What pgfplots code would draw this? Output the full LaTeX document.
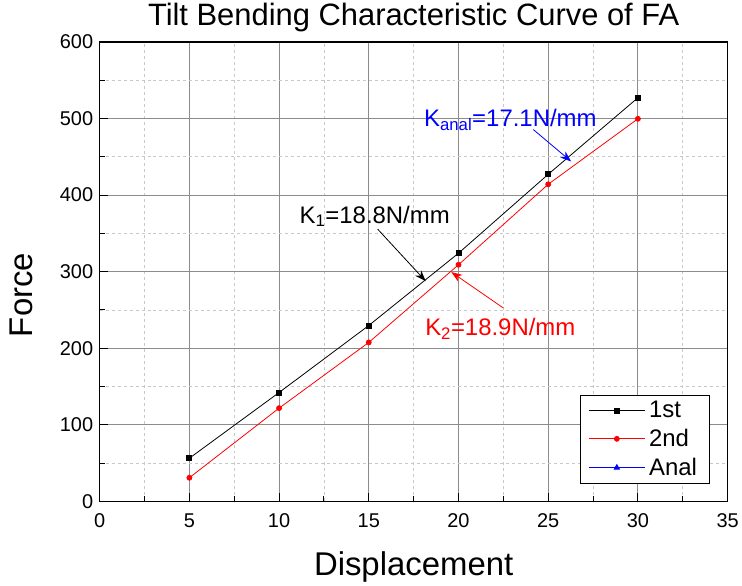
\documentclass[border=0pt]{standalone}
\usepackage{fontspec}
\setmainfont{Liberation Sans}
\usepackage{pgfplots}
\pgfplotsset{compat=1.18}
\usetikzlibrary{arrows.meta}

\definecolor{majgrid}{RGB}{140,140,140}
\definecolor{mingrid}{RGB}{200,200,200}

\begin{document}
\begin{tikzpicture}
\begin{axis}[
  name=ax,
  scale only axis,
  width=630pt, height=461pt,
  xmin=0, xmax=35, ymin=0, ymax=600,
  xtick={0,5,...,35}, ytick={0,100,...,600},
  minor x tick num=1, minor y tick num=1,
  xtick pos=bottom, ytick pos=left,
  tick align=inside,
  major tick length=8pt, minor tick length=5pt,
  every tick/.style={black, line width=1pt},
  axis line style={line width=1.6pt},
  grid=both,
  major grid style={majgrid, line width=0.8pt},
  minor grid style={mingrid, dashed, line width=0.6pt},
  /pgf/number format/assume math mode=true,
  ticklabel style={font=\fontsize{20}{22}\selectfont},
  xticklabel style={yshift=-9pt},
  yticklabel style={xshift=-3pt},
  title={Tilt Bending Characteristic Curve of FA},
  title style={font=\fontsize{31}{36}\selectfont, at={(axis description cs:0.5,1)}, anchor=base, yshift=10pt},
  xlabel={Displacement},
  xlabel style={font=\fontsize{33}{38}\selectfont, at={(axis description cs:0.5,0)}, anchor=base, yshift=-74pt},
  ylabel={Force},
  ylabel style={font=\fontsize{33}{38}\selectfont, at={([xshift=-67pt]axis description cs:0,0.449)}, anchor=base},
  legend style={at={(axis description cs:0.971,0.039)}, anchor=south east,
    font=\fontsize{24}{26}\selectfont, draw=black, line width=0.8pt,
    row sep=6pt, inner xsep=8pt, inner ysep=4pt,
    nodes={inner xsep=4pt}},
  legend cell align=left,
  legend image code/.code={\draw[mark repeat=2, mark phase=2, #1] plot coordinates {(0pt,0pt) (28pt,0pt) (56pt,0pt)};},
  clip=false,
]
\addplot[black, line width=0.8pt, mark=square*, mark size=2.5pt] coordinates {
  (5,56.3) (10,142.1) (15,229.6) (20,324) (25,427) (30,527)
};
\addlegendentry{1st}
\addplot[red, line width=0.8pt, mark=*, mark size=2.5pt] coordinates {
  (5,30.8) (10,121.7) (15,207.5) (20,308.9) (25,414) (30,499.5)
};
\addlegendentry{2nd}
\addlegendimage{blue, line width=0.8pt, mark=triangle*, mark size=3pt}
\addlegendentry{Anal}

\node[anchor=base, font=\fontsize{24}{26}\selectfont, text=black] at (axis cs:15.33,363.1) {K\textsubscript{1}=18.8N/mm};
\draw[black, line width=0.8pt, -{Stealth[length=11pt,width=8pt]}] (axis cs:15.5,355.3) -- (axis cs:18.17,287.6);
\node[anchor=base, font=\fontsize{24}{26}\selectfont, text=red] at (axis cs:22.33,216.1) {K\textsubscript{2}=18.9N/mm};
\draw[red, line width=0.8pt, -{Stealth[length=11pt,width=8pt]}] (axis cs:22.5,252.5) -- (axis cs:19.6,299.4);
\node[anchor=base, font=\fontsize{24}{26}\selectfont, text=blue] at (axis cs:22.89,489.4) {K\textsubscript{anal}=17.1N/mm};
\draw[blue, line width=0.8pt, -{Stealth[length=11pt,width=8pt]}] (axis cs:24.17,485.5) -- (axis cs:26.28,443.8);
\end{axis}
\path (ax.south west) ++(-100pt,-83pt) coordinate (bba);
\path (ax.north east) ++(12pt,42pt) coordinate (bbb);
\path (bba) rectangle (bbb);
\end{tikzpicture}
\end{document}
